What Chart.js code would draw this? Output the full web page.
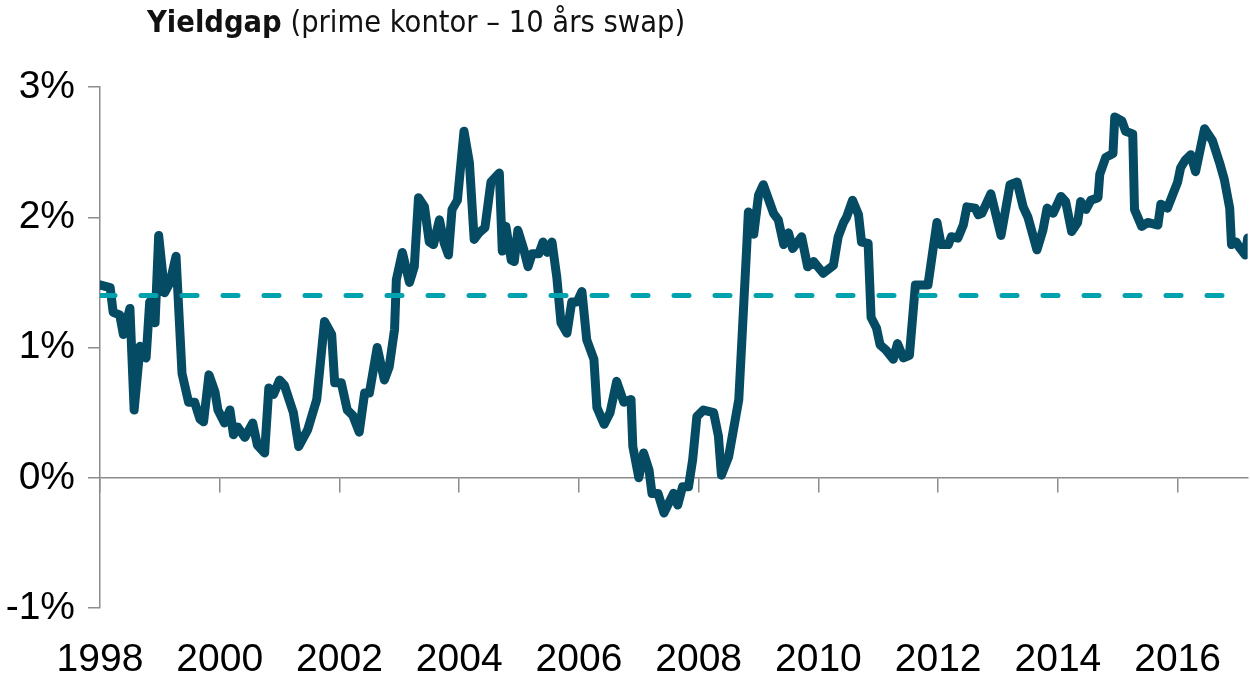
<!DOCTYPE html>
<html lang="no">
<head>
<meta charset="utf-8">
<title>Yieldgap</title>
<script src="https://cdn.jsdelivr.net/npm/chart.js@4.4.1/dist/chart.umd.min.js"></script>
<style>
    html, body { margin: 0; padding: 0; background: #fff; }
    #wrap { position: relative; width: 1250px; height: 678px; }
    #grafico-yieldgap { position: absolute; left: 0; top: 0; }
    #tittel {
        position: absolute; left: 147px; top: 4px;
        font-family: "DejaVu Sans Condensed", "DejaVu Sans", sans-serif;
        font-size: 30.5px; color: #111; white-space: nowrap;
    }
</style>
</head>
<body>
<div id="wrap">
    <canvas id="grafico-yieldgap" width="1250" height="678"></canvas>
    <div id="tittel"><b>Yieldgap</b> (prime kontor – 10 års swap)</div>
</div>
<script>
// Tid (desimalår) og yieldgap i prosentpoeng, lest av grafen
var aar = [
    1998.00, 1998.17, 1998.22, 1998.33, 1998.39, 1998.50, 1998.57, 1998.67, 1998.77, 1998.83,
    1998.92, 1998.98, 1999.08, 1999.17, 1999.27, 1999.37, 1999.48, 1999.58, 1999.67, 1999.73,
    1999.82, 1999.92, 1999.97, 2000.08, 2000.17, 2000.23, 2000.30, 2000.42, 2000.55, 2000.63,
    2000.75, 2000.82, 2000.90, 2001.00, 2001.08, 2001.23, 2001.32, 2001.47, 2001.62, 2001.75,
    2001.87, 2001.92, 2002.03, 2002.13, 2002.22, 2002.33, 2002.42, 2002.50, 2002.63, 2002.75,
    2002.83, 2002.92, 2002.95, 2003.05, 2003.17, 2003.25, 2003.32, 2003.42, 2003.50, 2003.57,
    2003.67, 2003.75, 2003.82, 2003.88, 2003.97, 2004.08, 2004.17, 2004.25, 2004.33, 2004.43,
    2004.53, 2004.67, 2004.72, 2004.78, 2004.87, 2004.92, 2004.98, 2005.08, 2005.15, 2005.22,
    2005.33, 2005.40, 2005.47, 2005.55, 2005.63, 2005.70, 2005.80, 2005.88, 2005.97, 2006.05,
    2006.13, 2006.25, 2006.30, 2006.42, 2006.52, 2006.63, 2006.75, 2006.87, 2006.90, 2007.00,
    2007.08, 2007.17, 2007.22, 2007.32, 2007.42, 2007.58, 2007.65, 2007.73, 2007.83, 2007.90,
    2007.97, 2008.08, 2008.25, 2008.33, 2008.38, 2008.50, 2008.67, 2008.72, 2008.80, 2008.83,
    2008.92, 2009.00, 2009.08, 2009.25, 2009.33, 2009.42, 2009.50, 2009.57, 2009.72, 2009.82,
    2009.92, 2010.08, 2010.25, 2010.33, 2010.42, 2010.47, 2010.57, 2010.67, 2010.72, 2010.83,
    2010.88, 2010.97, 2011.03, 2011.13, 2011.25, 2011.32, 2011.42, 2011.52, 2011.62, 2011.83,
    2011.92, 2011.98, 2012.05, 2012.17, 2012.22, 2012.33, 2012.42, 2012.48, 2012.62, 2012.67,
    2012.73, 2012.88, 2013.05, 2013.20, 2013.32, 2013.42, 2013.50, 2013.65, 2013.75, 2013.82,
    2013.92, 2014.05, 2014.13, 2014.23, 2014.33, 2014.38, 2014.47, 2014.55, 2014.67, 2014.70,
    2014.80, 2014.92, 2014.95, 2015.07, 2015.13, 2015.25, 2015.28, 2015.40, 2015.50, 2015.67,
    2015.72, 2015.83, 2016.00, 2016.05, 2016.13, 2016.22, 2016.30, 2016.45, 2016.58, 2016.70,
    2016.78, 2016.87, 2016.90, 2016.98, 2017.03, 2017.13, 2017.17
];
var yieldgap = [
    1.48, 1.46, 1.27, 1.25, 1.10, 1.30, 0.52, 1.01, 0.92, 1.35,
    1.19, 1.86, 1.42, 1.50, 1.70, 0.80, 0.58, 0.58, 0.45, 0.43,
    0.79, 0.66, 0.52, 0.42, 0.52, 0.33, 0.39, 0.31, 0.42, 0.25,
    0.19, 0.69, 0.64, 0.75, 0.71, 0.50, 0.24, 0.37, 0.60, 1.20,
    1.10, 0.73, 0.73, 0.52, 0.48, 0.35, 0.65, 0.65, 1.00, 0.75,
    0.85, 1.14, 1.52, 1.73, 1.50, 1.62, 2.15, 2.08, 1.81, 1.79,
    1.98, 1.80, 1.71, 2.06, 2.13, 2.66, 2.42, 1.83, 1.88, 1.92,
    2.27, 2.34, 1.74, 1.93, 1.67, 1.66, 1.90, 1.75, 1.62, 1.72,
    1.72, 1.81, 1.73, 1.81, 1.54, 1.19, 1.11, 1.35, 1.35, 1.43,
    1.06, 0.91, 0.54, 0.41, 0.50, 0.74, 0.58, 0.60, 0.24, 0.00,
    0.19, 0.06, -0.12, -0.12, -0.27, -0.12, -0.21, -0.07, -0.07, 0.14,
    0.47, 0.52, 0.50, 0.32, 0.02, 0.16, 0.60, 1.04, 1.75, 2.04,
    1.87, 2.17, 2.25, 2.03, 1.98, 1.79, 1.88, 1.76, 1.85, 1.62,
    1.66, 1.57, 1.63, 1.85, 1.96, 2.00, 2.13, 2.02, 1.81, 1.80,
    1.23, 1.15, 1.02, 0.98, 0.91, 1.03, 0.92, 0.94, 1.48, 1.48,
    1.77, 1.96, 1.79, 1.79, 1.85, 1.84, 1.94, 2.08, 2.07, 2.02,
    2.03, 2.18, 1.86, 2.25, 2.27, 2.08, 2.00, 1.75, 1.90, 2.07,
    2.03, 2.16, 2.12, 1.89, 1.96, 2.12, 2.06, 2.13, 2.15, 2.33,
    2.46, 2.49, 2.77, 2.74, 2.66, 2.64, 2.06, 1.93, 1.96, 1.94,
    2.10, 2.07, 2.27, 2.38, 2.44, 2.48, 2.35, 2.68, 2.59, 2.42,
    2.29, 2.07, 1.79, 1.81, 1.77, 1.71, 1.84
];

// Snittlinje (stiplet)
var snittAar = [1998, 2017.17];
var snittVerdi = [1.4, 1.4];

// Akser
var xMin = 1998;
var xMax = 2017.17;
var xTicks = [1998, 2000, 2002, 2004, 2006, 2008, 2010, 2012, 2014, 2016];
var yMin = -1;
var yMax = 3;
var ySteg = 1;

var farge = '#054b63';
var fargeSnitt = '#00a3ad';
var fargeAkse = '#8c8c8c';
var skrift = { family: '"Liberation Sans", Arial, sans-serif', size: 39 };

function tilPunkter(xs, ys) {
    return xs.map(function (x, i) { return { x: x, y: ys[i] }; });
}

// Faste ticks på partallsår (ikke max-verdien)
function settXTicks(scale) {
    scale.ticks = xTicks.map(function (v) { return { value: v }; });
}

function criarGraficoYieldgap() {
    var ctx = document.getElementById('grafico-yieldgap').getContext('2d');
    return new Chart(ctx, {
        type: 'line',
        data: {
            datasets: [
                {
                    label: 'Yieldgap',
                    data: tilPunkter(aar, yieldgap),
                    borderColor: farge,
                    borderWidth: 9,
                    borderJoinStyle: 'round',
                    borderCapStyle: 'round',
                    pointRadius: 0,
                    tension: 0,
                    order: 2
                },
                {
                    label: 'Snitt',
                    data: tilPunkter(snittAar, snittVerdi),
                    borderColor: fargeSnitt,
                    borderWidth: 5,
                    borderDash: [15, 26],
                    borderCapStyle: 'round',
                    pointRadius: 0,
                    order: 1
                }
            ]
        },
        options: {
            responsive: false,
            animation: false,
            devicePixelRatio: 1,
            layout: { padding: { top: 87, right: 0, bottom: 0, left: 0 } },
            plugins: {
                legend: { display: false },
                title: { display: false },
                tooltip: { enabled: false }
            },
            scales: {
                x: {
                    type: 'linear',
                    position: 'bottom',
                    min: xMin,
                    max: xMax,
                    grid: { display: false, drawTicks: false },
                    border: { display: false },
                    ticks: {
                        padding: 29,
                        maxRotation: 0,
                        autoSkip: false,
                        color: '#000',
                        font: skrift,
                        callback: function (v) { return String(v); }
                    },
                    afterBuildTicks: settXTicks,
                    afterFit: function (scale) { scale.height = 70; }
                },
                // nullinjen med tick-merker
                x2: {
                    type: 'linear',
                    axis: 'x',
                    position: { y: 0 },
                    min: xMin,
                    max: xMax,
                    ticks: { display: false },
                    afterBuildTicks: settXTicks,
                    grid: { drawOnChartArea: false, drawTicks: true, tickLength: 14, color: fargeAkse, lineWidth: 1.5 },
                    border: { color: fargeAkse, width: 1.5 }
                },
                y: {
                    min: yMin,
                    max: yMax,
                    grid: { drawOnChartArea: false, tickLength: 12, color: fargeAkse, lineWidth: 1.5 },
                    border: { color: fargeAkse, width: 1.5 },
                    ticks: {
                        stepSize: ySteg,
                        padding: 13,
                        color: '#000',
                        font: skrift,
                        callback: function (v) { return v + '%'; }
                    },
                    afterFit: function (scale) { scale.width = 100; }
                }
            }
        }
    });
}

var graficoYieldgap = criarGraficoYieldgap();
</script>
</body>
</html>
